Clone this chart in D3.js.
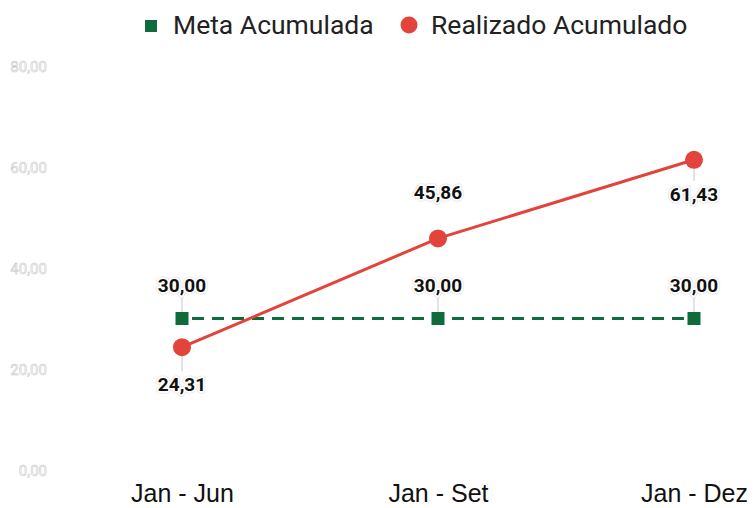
<!DOCTYPE html>
<html><head><meta charset="utf-8">
<script src="https://cdn.jsdelivr.net/npm/d3@7"></script>
<style>
html,body{margin:0;padding:0;background:#fff;}
svg{display:block;}
</style>
</head><body>
<svg id="chart" width="755" height="508"></svg>
<script>
const categories = ["Jan - Jun", "Jan - Set", "Jan - Dez"];
const metaAcumulada = [30.00, 30.00, 30.00];
const realizadoAcumulado = [24.31, 45.86, 61.43];
const yTicks = [0, 20, 40, 60, 80];
const seriesNames = ["Meta Acumulada", "Realizado Acumulado"];

const svg = d3.select("#chart");
const green = "#0f6b3b", red = "#e2433a";
const fmt = v => d3.format(".2f")(v).replace(".", ",");

const x = d3.scalePoint().domain(categories).range([182, 694]);
const y = d3.scaleLinear().domain([0, 80]).range([470, 66]);

// Y axis (white text with gray outline)
const yAxis = d3.axisLeft(y).tickValues(yTicks).tickFormat(fmt).tickSize(0).tickPadding(0);
const gy = svg.append("g").attr("transform", "translate(47,0)").call(yAxis);
gy.select(".domain").remove();
gy.selectAll("text")
  .attr("font-family", "Roboto, sans-serif").attr("font-size", 15)
  .attr("fill", "#fff").attr("stroke", "#c9c9c9").attr("stroke-width", 0.6)
  .attr("dy", "0.35em");

// X axis
const xAxis = d3.axisBottom(x).tickSize(0).tickPadding(0);
const gx = svg.append("g").attr("transform", "translate(0,502)").call(xAxis);
gx.select(".domain").remove();
gx.selectAll("text")
  .attr("font-family", "'Liberation Sans', Arial, sans-serif").attr("font-size", 25)
  .attr("fill", "#111").attr("dy", 0).attr("y", 0);

// Lines
const line = d3.line().x((d, i) => x(categories[i])).y(d => y(d));
svg.append("path").datum(metaAcumulada).attr("d", line)
  .attr("fill", "none").attr("stroke", green).attr("stroke-width", 3)
  .attr("stroke-dasharray", "12,8").attr("stroke-dashoffset", -10);
svg.append("path").datum(realizadoAcumulado).attr("d", line)
  .attr("fill", "none").attr("stroke", red).attr("stroke-width", 3);

// Label placement (style): offset of baseline from marker, leader on/off
const metaLabel = [{dy: -27, leader: true}, {dy: -27, leader: true}, {dy: -27, leader: true}];
const realLabel = [{dy: 44, leader: true}, {dy: -39, leader: false}, {dy: 41, leader: true}];
const FS = 19;

function drawLeaders(values, cfg) {
  values.forEach((v, i) => {
    const cx = x(categories[i]), cy = y(v), c = cfg[i];
    if (c.leader) {
      const y1 = c.dy < 0 ? cy + c.dy + 5 : cy;
      const y2 = c.dy < 0 ? cy : cy + c.dy - 20;
      svg.append("line").attr("x1", cx).attr("x2", cx).attr("y1", y1).attr("y2", y2)
        .attr("stroke", "#e2e2e2").attr("stroke-width", 2);
    }
  });
}
drawLeaders(metaAcumulada, metaLabel);
drawLeaders(realizadoAcumulado, realLabel);

// Markers
svg.selectAll(".sq").data(metaAcumulada).enter().append("rect")
  .attr("x", (d, i) => x(categories[i]) - 6.5).attr("y", d => y(d) - 6.5)
  .attr("width", 13).attr("height", 13).attr("fill", green);
svg.selectAll(".ci").data(realizadoAcumulado).enter().append("circle")
  .attr("cx", (d, i) => x(categories[i])).attr("cy", d => y(d)).attr("r", 9)
  .attr("fill", red);

// Label texts with halo
function halo(values, cfg) {
  values.forEach((v, i) => {
    const cx = x(categories[i]), cy = y(v), c = cfg[i];
    const g = svg.append("g");
    g.append("text").attr("x", cx).attr("y", cy + c.dy)
      .attr("text-anchor", "middle").attr("font-family", "Roboto, sans-serif")
      .attr("font-weight", "bold").attr("font-size", FS)
      .attr("fill", "#fff").attr("stroke", "#e6e6e6").attr("stroke-width", 5)
      .attr("stroke-linejoin", "round").text(fmt(v));
    g.append("text").attr("x", cx).attr("y", cy + c.dy)
      .attr("text-anchor", "middle").attr("font-family", "Roboto, sans-serif")
      .attr("font-weight", "bold").attr("font-size", FS)
      .attr("fill", "#fff").attr("stroke", "#fff").attr("stroke-width", 3.5)
      .attr("stroke-linejoin", "round").text(fmt(v));
    g.append("text").attr("x", cx).attr("y", cy + c.dy)
      .attr("text-anchor", "middle").attr("font-family", "Roboto, sans-serif")
      .attr("font-weight", "bold").attr("font-size", FS)
      .attr("fill", "#111").text(fmt(v));
  });
}
halo(metaAcumulada, metaLabel);
halo(realizadoAcumulado, realLabel);

// Legend
const leg = svg.append("g");
leg.append("rect").attr("x", 145).attr("y", 20).attr("width", 12).attr("height", 12).attr("fill", green);
leg.append("text").attr("x", 173).attr("y", 34).text(seriesNames[0])
  .attr("font-family", "Roboto, sans-serif").attr("font-size", 26.5).attr("fill", "#222");
leg.append("circle").attr("cx", 409).attr("cy", 25).attr("r", 8.5).attr("fill", red);
leg.append("text").attr("x", 431).attr("y", 34).text(seriesNames[1])
  .attr("font-family", "Roboto, sans-serif").attr("font-size", 26.5).attr("fill", "#222");
</script>
</body></html>
